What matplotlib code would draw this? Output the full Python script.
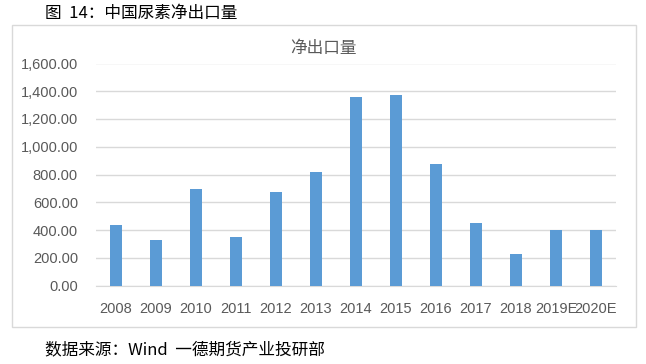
import matplotlib.pyplot as plt
from matplotlib.patches import Rectangle
from matplotlib.ticker import FuncFormatter

plt.rcParams['font.family'] = ['Noto Sans CJK SC', 'DejaVu Sans']

years = ['2008', '2009', '2010', '2011', '2012', '2013', '2014', '2015',
         '2016', '2017', '2018', '2019E', '2020E']
net_export = [435, 327, 694, 348, 673, 817, 1357, 1372, 874, 449, 226, 399, 399]

fig = plt.figure(figsize=(6.46, 3.64), dpi=100)
ax = fig.add_axes([96 / 646, 1 - 285.5 / 364, 520 / 646, 222 / 364])

x = range(len(years))
ax.bar(x, net_export, width=0.32, color='#5B9BD5', zorder=3)

ax.set_xlim(-0.5, len(years) - 0.5)
ax.set_ylim(0, 1600)
ax.set_yticks(range(0, 1601, 200))
ax.yaxis.set_major_formatter(FuncFormatter(lambda v, p: f'{v:,.2f}'))
ax.set_xticks(list(x))
ax.set_xticklabels(years, family=['Liberation Sans', 'DejaVu Sans'])
for lab in ax.get_yticklabels():
    lab.set_family(['Liberation Sans', 'DejaVu Sans'])

ax.grid(axis='y', color='#D9D9D9', linewidth=1, zorder=0)
for s in ['top', 'right', 'left']:
    ax.spines[s].set_visible(False)
ax.spines['bottom'].set_color('#D9D9D9')
ax.tick_params(axis='both', length=0, labelsize=10.5, colors='#595959')
ax.tick_params(axis='y', pad=13)
ax.tick_params(axis='x', pad=12)

# chart title and border
fig.text(323 / 646, 1 - 48 / 364, '净出口量', ha='center', va='center',
         fontsize=12, color='#595959')
fig.patches.append(Rectangle((12 / 646, 1 - 327 / 364), 624 / 646, 302 / 364,
                             transform=fig.transFigure, fill=False,
                             edgecolor='#D9D9D9', linewidth=1))

fig.text(45 / 646, 1 - 13 / 364, '图  14：中国尿素净出口量', ha='left', va='center',
         fontsize=12, color='black')
fig.text(45 / 646, 1 - 350 / 364, '数据来源：Wind  一德期货产业投研部', ha='left',
         va='center', fontsize=12, color='black')

fig.savefig('out.png', dpi=100)
